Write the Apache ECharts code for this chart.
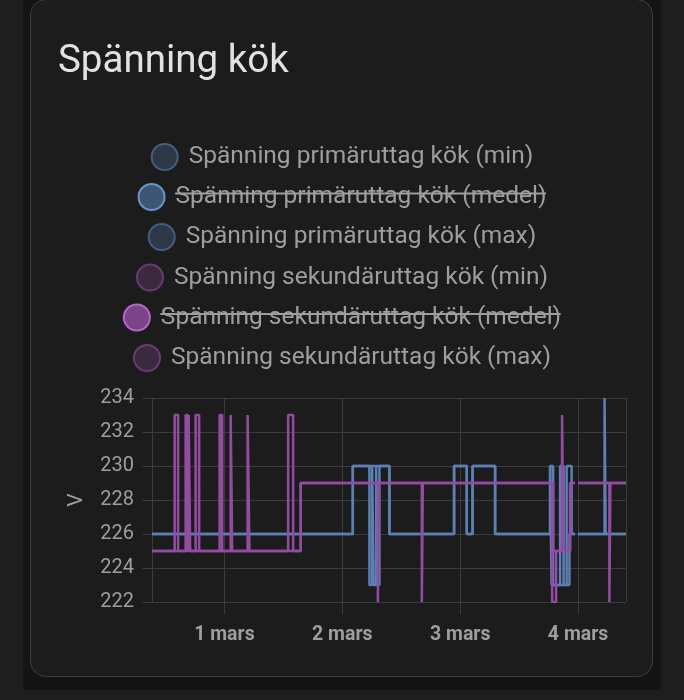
<!DOCTYPE html>
<html>
<head>
<meta charset="utf-8">
<script src="https://cdn.jsdelivr.net/npm/echarts@6/dist/echarts.min.js"></script>
<style>
  html, body { margin: 0; padding: 0; width: 684px; height: 700px; background: #1e1e1e; overflow: hidden; }
  #panel { position: absolute; left: 23px; top: -10px; width: 638px; height: 700px; background: #141414; }
  #card { position: absolute; left: 30px; top: -1px; width: 623px; height: 678px; background: #1c1c1c;
          border: 1px solid #3e3e3e; border-radius: 16px; box-sizing: border-box; }
  #chart { position: absolute; left: 0; top: 0; width: 684px; height: 700px; }
</style>
</head>
<body>
<div id="panel"></div>
<div id="card"></div>
<div id="chart"></div>
<script>
// ---- data ----
const titleText = 'Spänning kök';
const yAxisName = 'V';
const seriesNames = [
  'Spänning primäruttag kök (min)',
  'Spänning primäruttag kök (medel)',
  'Spänning primäruttag kök (max)',
  'Spänning sekundäruttag kök (min)',
  'Spänning sekundäruttag kök (medel)',
  'Spänning sekundäruttag kök (max)'
];
const hiddenSeries = [
  'Spänning primäruttag kök (medel)',
  'Spänning sekundäruttag kök (medel)'
];
const monthNames = ['jan', 'feb', 'mars', 'apr', 'maj', 'juni', 'juli', 'aug', 'sep', 'okt', 'nov', 'dec'];
const xStart = '2024-02-29 09:15';
const xEnd = '2024-03-04 09:45';
const yMin = 222, yMax = 234, yStep = 2;

const primaryMin = [
  ['2024-02-29 09:15', 226],
  ['2024-03-02 02:08', 230],
  ['2024-03-02 05:31', 223],
  ['2024-03-02 06:04', 230],
  ['2024-03-02 06:22', 223],
  ['2024-03-02 06:53', 230],
  ['2024-03-02 07:05', 223],
  ['2024-03-02 07:33', 230],
  ['2024-03-02 09:35', 226],
  ['2024-03-02 22:45', 230],
  ['2024-03-03 01:20', 226],
  ['2024-03-03 02:31', 230],
  ['2024-03-03 07:06', 226],
  ['2024-03-03 18:18', 230],
  ['2024-03-03 18:36', 223],
  ['2024-03-03 22:14', 226],
  ['2024-03-03 23:23', 226],
  ['2024-03-03 23:30', null],
  ['2024-03-04 00:00', 226],
  ['2024-03-04 09:45', 226]
];
const primaryMedel = [];
const primaryMax = [
  ['2024-02-29 09:15', 226],
  ['2024-03-02 02:08', 230],
  ['2024-03-02 09:35', 226],
  ['2024-03-02 22:45', 230],
  ['2024-03-03 01:20', 226],
  ['2024-03-03 02:31', 230],
  ['2024-03-03 07:06', 226],
  ['2024-03-03 18:18', 230],
  ['2024-03-03 18:55', 223],
  ['2024-03-03 20:20', 230],
  ['2024-03-03 21:03', 223],
  ['2024-03-03 21:40', 230],
  ['2024-03-03 22:41', 226],
  ['2024-03-03 23:23', 226],
  ['2024-03-03 23:30', null],
  ['2024-03-04 00:00', 226],
  ['2024-03-04 05:23', 234],
  ['2024-03-04 05:36', 226],
  ['2024-03-04 09:45', 226]
];
const secondaryMin = [
  ['2024-02-29 09:15', 225],
  ['2024-03-01 15:31', 229],
  ['2024-03-02 07:14', 222],
  ['2024-03-02 07:26', 229],
  ['2024-03-02 16:11', 222],
  ['2024-03-02 16:23', 229],
  ['2024-03-03 18:43', 222],
  ['2024-03-03 19:31', 225],
  ['2024-03-03 22:22', 229],
  ['2024-03-03 23:23', 229],
  ['2024-03-03 23:30', null],
  ['2024-03-04 00:00', 229],
  ['2024-03-04 06:22', 222],
  ['2024-03-04 06:34', 229],
  ['2024-03-04 09:45', 229]
];
const secondaryMedel = [];
const secondaryMax = [
  ['2024-02-29 09:15', 225],
  ['2024-02-29 13:52', 233],
  ['2024-02-29 14:34', 225],
  ['2024-02-29 16:06', 233],
  ['2024-02-29 16:31', 225],
  ['2024-02-29 16:43', 233],
  ['2024-02-29 17:01', 225],
  ['2024-02-29 18:08', 233],
  ['2024-02-29 18:51', 225],
  ['2024-02-29 23:01', 233],
  ['2024-02-29 23:32', 225],
  ['2024-03-01 01:16', 233],
  ['2024-03-01 01:34', 225],
  ['2024-03-01 04:43', 233],
  ['2024-03-01 05:05', 225],
  ['2024-03-01 12:58', 233],
  ['2024-03-01 13:59', 225],
  ['2024-03-01 15:31', 229],
  ['2024-03-03 18:55', 225],
  ['2024-03-03 20:44', 233],
  ['2024-03-03 21:00', 225],
  ['2024-03-03 22:22', 229],
  ['2024-03-03 23:23', 229],
  ['2024-03-03 23:30', null],
  ['2024-03-04 00:00', 229],
  ['2024-03-04 09:45', 229]
];
const seriesData = [primaryMin, primaryMedel, primaryMax, secondaryMin, secondaryMedel, secondaryMax];

// ---- style ----
const BLUE = '#5a80b4';
const PURPLE = '#944ca2';
const lineColors = [BLUE, BLUE, BLUE, PURPLE, PURPLE, PURPLE];
const iconFill = ['#2c3847', '#3e5675', '#2c3847', '#3b2940', '#7c4488', '#3b2940'];
const iconBorder = ['#435e80', '#6994cc', '#435e80', '#6a3a74', '#b865c8', '#6a3a74'];
const legendCenters = [156, 196, 236, 276.5, 316.5, 357];
const LEG_FS = 24.5, ICON = 26, TEXT_PAD = 6;
const TEXT_COLOR = '#9e9e9e';
const GRID_COLOR = '#3b3b3b';
const FONT = 'Roboto';

const chart = echarts.init(document.getElementById('chart'), null, { renderer: 'canvas' });

const legends = seriesNames.map((name, i) => ({
  left: 'center',
  top: legendCenters[i] - ICON / 2,
  orient: 'horizontal',
  selectedMode: false,
  itemWidth: ICON,
  itemHeight: ICON,
  padding: 0,
  textStyle: { color: TEXT_COLOR, fontSize: LEG_FS, fontFamily: FONT, padding: [0, 0, 0, TEXT_PAD] },
  data: [{
    name: name,
    icon: 'circle',
    itemStyle: { color: iconFill[i], borderColor: iconBorder[i], borderWidth: 2 }
  }]
}));

// strike-through for hidden series, measured from the rendered font
const mctx = document.createElement('canvas').getContext('2d');
mctx.font = LEG_FS + 'px ' + FONT;
const strikes = [];
seriesNames.forEach((name, i) => {
  if (hiddenSeries.indexOf(name) < 0) return;
  const w = mctx.measureText(name).width;
  const total = ICON + 5 + TEXT_PAD + w;
  const x0 = (684 - total) / 2 + ICON + 5 + TEXT_PAD;
  const y = legendCenters[i] - 2.5;
  strikes.push({
    type: 'line', silent: true, z: 100,
    shape: { x1: x0, y1: y, x2: x0 + w, y2: y },
    style: { stroke: TEXT_COLOR, lineWidth: 2 }
  });
});

const option = {
  backgroundColor: 'transparent',
  animation: false,
  textStyle: { fontFamily: FONT },
  title: {
    text: titleText,
    left: 53,
    top: 38,
    textStyle: { color: '#e2e2e2', fontSize: 38.5, fontWeight: 'normal', fontFamily: FONT }
  },
  legend: legends,
  graphic: strikes,
  grid: { left: 152, right: 58, top: 398, bottom: 98 },
  xAxis: {
    type: 'time',
    min: xStart,
    max: xEnd,
    minInterval: 86400000,
    maxInterval: 86400000,
    axisLine: { show: false },
    axisTick: { show: true, length: 12, lineStyle: { color: GRID_COLOR, width: 1 } },
    splitLine: { show: true, lineStyle: { color: GRID_COLOR, width: 1 } },
    axisLabel: {
      color: TEXT_COLOR, fontSize: 19.5, fontWeight: 'bold', fontFamily: FONT, margin: 23,
      showMinLabel: false, showMaxLabel: false,
      formatter: function (val) {
        const d = new Date(val);
        return d.getDate() + ' ' + monthNames[d.getMonth()];
      }
    }
  },
  yAxis: {
    type: 'value',
    min: yMin,
    max: yMax,
    interval: yStep,
    name: yAxisName,
    nameLocation: 'middle',
    nameRotate: 90,
    nameGap: 65,
    nameTextStyle: { color: TEXT_COLOR, fontSize: 21, fontFamily: FONT },
    axisLine: { show: true, lineStyle: { color: GRID_COLOR, width: 1 } },
    axisTick: { show: true, length: 10, lineStyle: { color: GRID_COLOR, width: 1 } },
    splitLine: { show: true, lineStyle: { color: GRID_COLOR, width: 1 } },
    axisLabel: { color: TEXT_COLOR, fontSize: 20, fontFamily: FONT, margin: 18 }
  },
  series: seriesNames.map((name, i) => ({
    name: name,
    type: 'line',
    step: 'end',
    showSymbol: false,
    symbol: 'none',
    connectNulls: false,
    lineStyle: { color: lineColors[i], width: 2.5 },
    itemStyle: { color: lineColors[i] },
    data: seriesData[i]
  }))
};
chart.setOption(option);
</script>
</body>
</html>
